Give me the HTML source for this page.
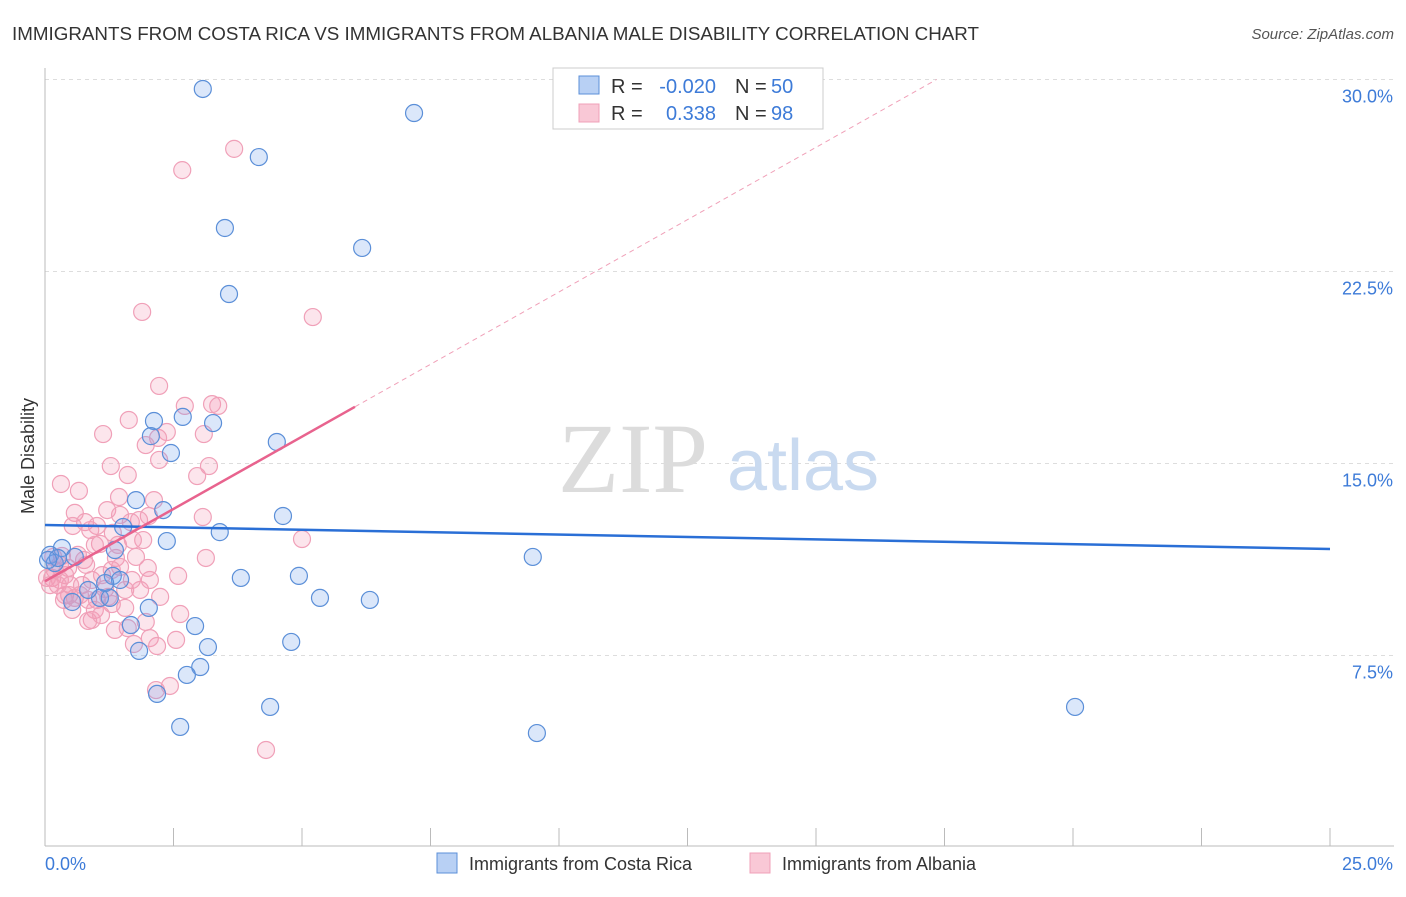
<!DOCTYPE html>
<html><head><meta charset="utf-8"><style>
body{margin:0;background:#fff;font-family:"Liberation Sans",sans-serif}
</style></head><body>
<svg width="1406" height="892" xmlns="http://www.w3.org/2000/svg" font-family="Liberation Sans, sans-serif">
<text x="12" y="40" font-size="18" fill="#333" textLength="967" lengthAdjust="spacingAndGlyphs">IMMIGRANTS FROM COSTA RICA VS IMMIGRANTS FROM ALBANIA MALE DISABILITY CORRELATION CHART</text>
<text x="1394" y="39" font-size="15" fill="#555" font-style="italic" text-anchor="end">Source: ZipAtlas.com</text>
<g id="grid"></g>
<g><text x="633" y="492" font-size="100" font-family="Liberation Serif, serif" fill="#dcdcdc" text-anchor="middle">ZIP</text><text x="803" y="490" font-size="72" fill="#c9daf0" text-anchor="middle">atlas</text></g>
<line x1="45" y1="68" x2="45" y2="846" stroke="#bbb"/>
<line x1="45" y1="846" x2="1394" y2="846" stroke="#bbb"/>
<g id="ticks"></g>
<g id="ylabels"></g>
<text x="45" y="870" font-size="18" fill="#3d7bd8">0.0%</text>
<text x="1393" y="870" font-size="18" fill="#3d7bd8" text-anchor="end">25.0%</text>
<text transform="translate(34,456) rotate(-90)" font-size="18" fill="#333" text-anchor="middle">Male Disability</text>
<g id="pts"></g>
<g id="lines"></g>
<g>
<rect x="553" y="68" width="270" height="61" fill="#fff" stroke="#ccc"/>
<rect x="579" y="76" width="20" height="18" fill="#b8d0f4" stroke="#5b8fd8"/>
<rect x="579" y="104" width="20" height="18" fill="#f9c8d6" stroke="#f0a0b8"/>
<text x="611" y="93" font-size="20" fill="#333">R =</text>
<text x="716" y="93" font-size="20" fill="#3d7bd8" text-anchor="end">-0.020</text>
<text x="735" y="93" font-size="20" fill="#333">N =</text>
<text x="771" y="93" font-size="20" fill="#3d7bd8">50</text>
<text x="611" y="120" font-size="20" fill="#333">R =</text>
<text x="716" y="120" font-size="20" fill="#3d7bd8" text-anchor="end">0.338</text>
<text x="735" y="120" font-size="20" fill="#333">N =</text>
<text x="771" y="120" font-size="20" fill="#3d7bd8">98</text>
</g>
<g>
<rect x="437" y="853" width="20" height="20" fill="#b8d0f4" stroke="#5b8fd8"/>
<text x="469" y="870" font-size="18" fill="#333">Immigrants from Costa Rica</text>
<rect x="750" y="853" width="20" height="20" fill="#f9c8d6" stroke="#f0a0b8"/>
<text x="782" y="870" font-size="18" fill="#333">Immigrants from Albania</text>
</g>
</svg>
<script>
const yTicks=[7.5,15,22.5,30];
const yTickLabels=["7.5%","15.0%","22.5%","30.0%"];
const xTicks=[0,2.5,5,7.5,10,12.5,15,17.5,20,22.5,25];
const blueX=[3.07,7.18,4.16,3.50,6.17,3.58,2.68,3.27,2.12,2.06,2.45,4.51,2.30,1.77,4.63,3.40,2.37,1.52,1.36,0.33,0.10,0.19,9.49,3.81,4.94,1.32,1.46,5.35,6.32,0.53,2.02,1.67,2.92,4.79,3.17,1.83,3.02,2.76,2.18,4.38,2.63,9.57,20.04,1.07,0.84,0.25,1.26,0.58,1.17,0.06];
const blueY=[29.63,28.69,26.97,24.20,23.42,21.62,16.82,16.58,16.66,16.07,15.41,15.84,13.18,13.57,12.95,12.32,11.97,12.52,11.62,11.70,11.43,11.11,11.35,10.53,10.61,10.61,10.45,9.75,9.67,9.59,9.36,8.69,8.65,8.03,7.83,7.68,7.05,6.74,6.00,5.49,4.71,4.47,5.49,9.75,10.06,11.31,9.75,11.35,10.33,11.23];
const pinkX=[3.68,2.67,1.89,5.21,2.22,3.25,3.37,2.72,1.63,1.13,2.37,2.20,3.09,1.96,2.22,3.19,1.28,2.96,0.31,0.66,1.61,1.44,2.12,0.58,1.21,2.02,3.07,1.46,1.83,0.78,0.54,1.01,1.67,5.00,1.32,0.88,1.07,0.33,0.16,1.38,1.77,3.13,0.76,0.45,2.00,1.46,0.39,2.59,0.14,0.29,0.91,1.69,0.04,0.49,1.17,0.72,0.10,1.56,0.39,1.23,2.24,0.58,1.01,2.63,1.56,0.97,1.30,0.91,0.84,1.96,1.36,1.61,2.55,2.04,1.73,2.18,2.16,2.43,4.30,0.47,0.68,0.19,0.25,1.11,1.91,0.97,0.64,1.42,1.71,0.84,0.37,0.53,1.09,0.80,1.30,0.29,2.04,1.85];
const pinkY=[27.29,26.46,20.92,20.72,18.03,17.32,17.25,17.25,16.70,16.15,16.23,16.00,16.15,15.72,15.14,14.90,14.90,14.51,14.20,13.93,14.55,13.69,13.57,13.07,13.18,12.95,12.91,12.99,12.79,12.71,12.56,12.56,12.71,12.05,12.29,12.40,11.86,11.39,11.35,11.31,11.35,11.31,11.23,10.92,10.92,10.96,10.64,10.61,10.53,10.45,10.45,10.45,10.53,10.25,10.10,10.25,10.25,10.06,9.86,9.79,9.79,9.75,9.67,9.12,9.36,9.28,9.51,8.89,8.85,8.81,8.50,8.57,8.11,8.18,7.95,7.87,6.15,6.31,3.81,9.86,9.86,10.84,10.25,10.64,12.01,11.82,11.43,11.82,12.01,9.67,9.67,9.28,9.08,11.04,10.84,11.04,10.45,10.06];
const blueTrend=[12.60,11.66]; // y at x=0 and x=25
const pinkTrend=[10.40,1.13]; // intercept, slope
const pinkSolidEnd=6.03;
const NS="http://www.w3.org/2000/svg";
const sx=v=>45+v*51.4, sy=v=>847.5-v*25.6;
function mk(t,a,p){const e=document.createElementNS(NS,t);for(const k in a)e.setAttribute(k,a[k]);p.appendChild(e);return e;}
const grid=document.getElementById('grid'),yl=document.getElementById('ylabels'),tk=document.getElementById('ticks');
yTicks.forEach((v,i)=>{
 const l=mk('line',{x1:45,x2:1394,y1:sy(v),y2:sy(v),stroke:'#ddd','stroke-dasharray':'4,4'},grid);
 
 
 const t=mk('text',{x:1393,y:sy(v)+23,'font-size':18,fill:'#3d7bd8','text-anchor':'end'},yl);
 t.textContent=yTickLabels[i];
 
 
});
xTicks.forEach(v=>{
 const l=mk('line',{x1:sx(v),x2:sx(v),y1:828,y2:846,stroke:'#bbb'},tk);
 
 
});
const pts=document.getElementById('pts');
pinkX.forEach((x,i)=>{
 const c=mk('circle',{cx:sx(x),cy:sy(pinkY[i]),r:8.5,fill:'rgba(245,150,180,0.25)',stroke:'#f0a0b8','stroke-width':1.2},pts);
 
 
});
blueX.forEach((x,i)=>{
 const c=mk('circle',{cx:sx(x),cy:sy(blueY[i]),r:8.5,fill:'rgba(110,160,235,0.25)',stroke:'#5b8fd8','stroke-width':1.2},pts);
 
 
});
const ln=document.getElementById('lines');
const b=mk('line',{x1:sx(0),y1:sy(blueTrend[0]),x2:sx(25),y2:sy(blueTrend[1]),stroke:'#2a6fd6','stroke-width':2.5},ln);


const xe=(30-pinkTrend[0])/pinkTrend[1];
const pd=mk('line',{x1:sx(pinkSolidEnd),y1:sy(pinkTrend[0]+pinkTrend[1]*pinkSolidEnd),x2:sx(xe),y2:sy(30),stroke:'#f0a0b8','stroke-width':1,'stroke-dasharray':'5,4'},ln);


const p=mk('line',{x1:sx(0),y1:sy(pinkTrend[0]),x2:sx(pinkSolidEnd),y2:sy(pinkTrend[0]+pinkTrend[1]*pinkSolidEnd),stroke:'#e8638e','stroke-width':2.5},ln);


</script>
</body></html>
